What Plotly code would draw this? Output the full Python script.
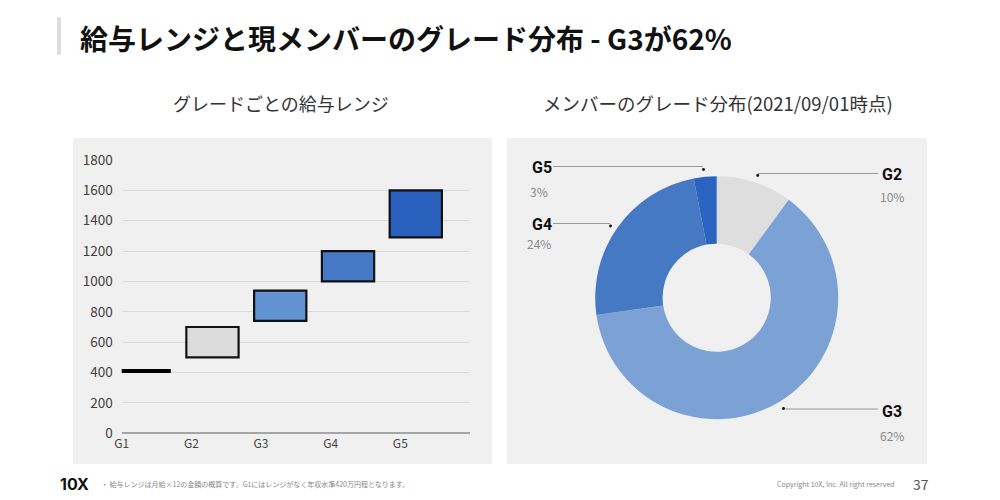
import plotly.graph_objects as go

# ---------------- data ----------------
grades = ["G1", "G2", "G3", "G4", "G5"]
range_min = [410, 500, 740, 1000, 1290]
range_max = [410, 700, 940, 1200, 1600]
box_colors = ["#000000", "#dcdcdc", "#6192d2", "#4679c5", "#2a60bd"]
y_ticks = [0, 200, 400, 600, 800, 1000, 1200, 1400, 1600, 1800]

pie_labels = ["G2", "G3", "G4", "G5"]
pie_values = [10, 62, 24, 3]
pie_colors = ["#dedede", "#7ca1d5", "#4679c3", "#2b63c1"]
pie_pct_text = ["10%", "62%", "24%", "3%"]

title_text = "給与レンジと現メンバーのグレード分布 - G3が62%"
left_sub = "グレードごとの給与レンジ"
right_sub = "メンバーのグレード分布(2021/09/01時点)"
footnote = "・ 給与レンジは月給×12の金額の概算です。G1にはレンジがなく年収水準420万円程となります。"
copyright_text = "Copyright 10X, Inc. All right reserved"
page_no = "37"

FONT = "Noto Sans CJK JP, Noto Sans, sans-serif"
W, H = 1000, 500


def px(x):
    return x / W


def py(y):
    return 1 - y / H


fig = go.Figure()

# ---------------- left: salary ranges ----------------
BOX_W = 0.75
x_pos = [0.33 + i * 0.973 for i in range(len(grades))]

for i, g in enumerate(grades):
    lo, hi = range_min[i], range_max[i]
    if hi > lo:
        fig.add_trace(go.Bar(
            x=[x_pos[i]], y=[hi - lo], base=[lo], width=BOX_W,
            marker=dict(color=box_colors[i], line=dict(color="#111111", width=2.2)),
            xaxis="x", yaxis="y", showlegend=False, hoverinfo="skip",
        ))
    else:
        fig.add_trace(go.Scatter(
            x=[x_pos[i] - BOX_W / 2, x_pos[i] + BOX_W / 2], y=[lo, hi],
            mode="lines", line=dict(color="#000000", width=4),
            xaxis="x", yaxis="y", showlegend=False, hoverinfo="skip",
        ))

# ---------------- right: donut ----------------
cx, cy, R = 716.7, 297.7, 121.5
fig.add_trace(go.Pie(
    labels=pie_labels, values=pie_values, hole=0.445, sort=False,
    direction="clockwise", rotation=0,
    marker=dict(colors=pie_colors, line=dict(width=0)),
    textinfo="none", showlegend=False, hoverinfo="skip",
    domain=dict(x=[px(cx - R), px(cx + R)], y=[py(cy + R), py(cy - R)]),
))

shapes = [
    dict(type="rect", xref="paper", yref="paper", x0=px(73), x1=px(492),
         y0=py(464), y1=py(138), fillcolor="#f0f0f0", line=dict(width=0), layer="below"),
    dict(type="rect", xref="paper", yref="paper", x0=px(507), x1=px(927),
         y0=py(464), y1=py(138), fillcolor="#f0f0f0", line=dict(width=0), layer="below"),
    dict(type="rect", xref="paper", yref="paper", x0=px(57), x1=px(61),
         y0=py(55), y1=py(17), fillcolor="#dddddd", line=dict(width=0), layer="below"),
]

leaders = [
    ("G5", 553, 703, 166.5, 703.5, 169.5),
    ("G4", 553, 610, 223.5, 610.5, 226.0),
    ("G2", 758, 878, 173.5, 757.7, 175.5),
    ("G3", 785, 878, 409.0, 783.5, 408.5),
]
for _, x0, x1, ly, dx, dy in leaders:
    shapes.append(dict(type="line", xref="paper", yref="paper", x0=px(x0), x1=px(x1),
                       y0=py(ly), y1=py(ly), line=dict(color="#9a9a9a", width=1)))
    shapes.append(dict(type="circle", xref="paper", yref="paper",
                       x0=px(dx - 1.4), x1=px(dx + 1.4), y0=py(dy + 1.4), y1=py(dy - 1.4),
                       fillcolor="#111111", line=dict(width=0)))

label_pos = {
    "G2": ((892, 174), (892, 196.5)),
    "G3": ((892, 411), (892, 435.5)),
    "G4": ((542, 224.5), (538.5, 243.5)),
    "G5": ((542, 167.5), (538.5, 191.5)),
}

annotations = [
    dict(text=f"<b>{title_text}</b>", x=px(78), y=py(38), xref="paper", yref="paper",
         xanchor="left", yanchor="middle", showarrow=False,
         font=dict(family=FONT, size=28, color="#111111")),
    dict(text=left_sub, x=px(281), y=py(103), xref="paper", yref="paper",
         xanchor="center", yanchor="middle", showarrow=False,
         font=dict(family=FONT, size=18, color="#333333")),
    dict(text=right_sub, x=px(718), y=py(103), xref="paper", yref="paper",
         xanchor="center", yanchor="middle", showarrow=False,
         font=dict(family=FONT, size=18.5, color="#333333")),
    dict(text="<b>10X</b>", x=px(58), y=py(484), xref="paper", yref="paper",
         xanchor="left", yanchor="middle", showarrow=False,
         font=dict(family="Inter, Noto Sans, sans-serif", size=16, color="#111111")),
    dict(text=footnote, x=px(99), y=py(484), xref="paper", yref="paper",
         xanchor="left", yanchor="middle", showarrow=False,
         font=dict(family=FONT, size=7, color="#888888")),
    dict(text=copyright_text, x=px(897), y=py(484), xref="paper", yref="paper",
         xanchor="right", yanchor="middle", showarrow=False,
         font=dict(family=FONT, size=7, color="#888888")),
    dict(text=page_no, x=px(921), y=py(484), xref="paper", yref="paper",
         xanchor="center", yanchor="middle", showarrow=False,
         font=dict(family=FONT, size=14, color="#555555")),
]
for i, lab in enumerate(pie_labels):
    (nx, ny), (tx, ty) = label_pos[lab]
    annotations.append(dict(text=f"<b>{lab}</b>", x=px(nx), y=py(ny), xref="paper", yref="paper",
                            xanchor="center", yanchor="middle", showarrow=False,
                            font=dict(family="Roboto, Noto Sans, sans-serif", size=16, color="#111111")))
    annotations.append(dict(text=pie_pct_text[i], x=px(tx), y=py(ty), xref="paper", yref="paper",
                            xanchor="center", yanchor="middle", showarrow=False,
                            font=dict(family=FONT, size=12, color="#888888")))

fig.update_layout(
    template="none",
    width=W, height=H, autosize=False,
    margin=dict(l=0, r=0, t=0, b=0, pad=0, autoexpand=False),
    paper_bgcolor="#ffffff",
    plot_bgcolor="rgba(0,0,0,0)",
    barmode="overlay",
    xaxis=dict(domain=[px(121.7), px(470)], range=[0, 5], tickmode="array",
               tickvals=list(range(len(grades))), ticktext=grades, automargin=False,
               showgrid=False, zeroline=False, showline=False, ticks="",
               ticklabelstandoff=2,
               tickfont=dict(family=FONT, size=12, color="#444444"), fixedrange=True),
    yaxis=dict(domain=[py(433.3), py(160)], range=[0, 1800], tickmode="array",
               tickvals=y_ticks, showgrid=True, gridcolor="#d9d9d9", gridwidth=1,
               zeroline=True, zerolinecolor="#a6a6a6", zerolinewidth=1.5, automargin=False,
               showline=False, ticks="", ticklabelstandoff=8,
               tickfont=dict(family=FONT, size=13.5, color="#404040"), fixedrange=True),
    shapes=shapes,
    annotations=annotations,
)

fig.write_html("out.html", config={"displayModeBar": False},
               post_script="document.body.style.margin='0';")
